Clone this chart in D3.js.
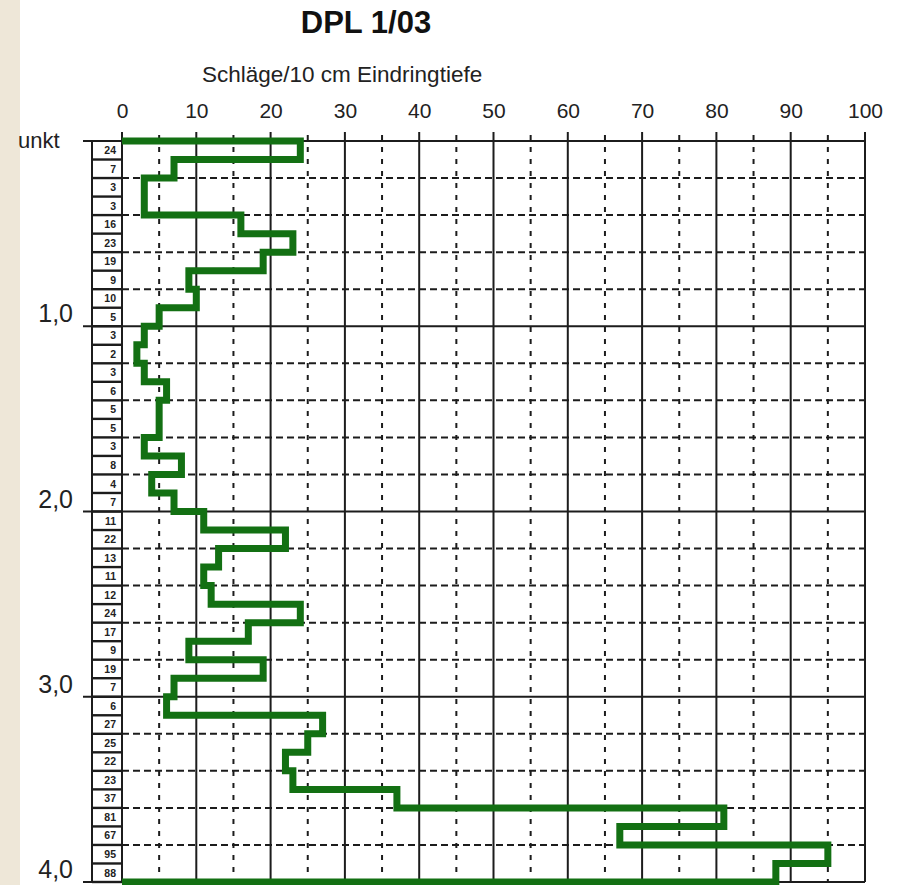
<!DOCTYPE html>
<html>
<head>
<meta charset="utf-8">
<script src="https://cdn.jsdelivr.net/npm/d3@7"></script>
<style>
  html, body { margin: 0; padding: 0; background: #ffffff; }
  svg { display: block; font-family: "Liberation Sans", Arial, sans-serif; }
</style>
</head>
<body>
<svg id="chart" width="903" height="885"></svg>
<script>
// Blows per 10 cm penetration, from 0.0 m down to 4.0 m
const blows = [
  24, 7, 3, 3, 16, 23, 19, 9, 10, 5,
  3, 2, 3, 6, 5, 5, 3, 8, 4, 7,
  11, 22, 13, 11, 12, 24, 17, 9, 19, 7,
  6, 27, 25, 22, 23, 37, 81, 67, 95, 88
];
const stepDepth = 0.1;                 // m per reading
const xTickValues = [0, 10, 20, 30, 40, 50, 60, 70, 80, 90, 100];
const xMinorValues = [5, 15, 25, 35, 45, 55, 65, 75, 85, 95];
const depthMajor = [0, 1, 2, 3, 4];
const depthMinor = [0.2, 0.4, 0.6, 0.8, 1.2, 1.4, 1.6, 1.8, 2.2, 2.4, 2.6, 2.8, 3.2, 3.4, 3.6, 3.8];
const depthLabels = ["1,0", "2,0", "3,0", "4,0"];
const depthLabelValues = [1, 2, 3, 4];
const titleText = "DPL 1/03";
const axisTitle = "Schläge/10 cm Eindringtiefe";
const startLabel = "unkt";

const svg = d3.select("#chart");

const x = d3.scaleLinear().domain([0, 100]).range([122, 865]);
const y = d3.scaleLinear().domain([0, 4]).range([141, 882]);

const ink = "#1c1c1c";
const green = "#137013";

// left margin strip
svg.append("rect").attr("x", 0).attr("y", 0).attr("width", 20).attr("height", 885)
  .attr("fill", "#eee7d8");

// title and axis caption
svg.append("text").attr("x", 366).attr("y", 33).attr("text-anchor", "middle")
  .attr("font-size", 31).attr("font-weight", "bold").attr("fill", "#111").text(titleText);
svg.append("text").attr("x", 202).attr("y", 82)
  .attr("font-size", 22.5).attr("fill", "#222").text(axisTitle);

// top axis labels
const axis = d3.axisTop(x).tickValues(xTickValues).tickSize(0).tickPadding(0).tickFormat(d3.format("d"));
const gAxis = svg.append("g").attr("transform", "translate(0,118)").call(axis);
gAxis.select(".domain").remove();
gAxis.selectAll("text").attr("font-size", 21).attr("fill", "#222")
  .attr("font-family", "'Liberation Sans', Arial, sans-serif").attr("dy", 0);

// minor horizontal dashed grid (every 0.2 m)
svg.append("g").selectAll("line").data(depthMinor).join("line")
  .attr("x1", x(0)).attr("x2", x(100))
  .attr("y1", d => y(d)).attr("y2", d => y(d))
  .attr("stroke", ink).attr("stroke-width", 2).attr("stroke-dasharray", "7,4");

// minor vertical dashed grid (every 5 blows)
svg.append("g").selectAll("line").data(xMinorValues).join("line")
  .attr("x1", d => x(d)).attr("x2", d => x(d))
  .attr("y1", y(0) - 6).attr("y2", y(4))
  .attr("stroke", ink).attr("stroke-width", 2).attr("stroke-dasharray", "5,7");

// major vertical lines (every 10 blows)
svg.append("g").selectAll("line").data(xTickValues).join("line")
  .attr("x1", d => x(d)).attr("x2", d => x(d))
  .attr("y1", y(0) - 9).attr("y2", y(4))
  .attr("stroke", ink).attr("stroke-width", 2);

// major horizontal lines (every metre)
svg.append("g").selectAll("line").data(depthMajor).join("line")
  .attr("x1", 83).attr("x2", x(100))
  .attr("y1", d => y(d)).attr("y2", d => y(d))
  .attr("stroke", ink).attr("stroke-width", 2);

// reading column: boxes holding the blow counts
const col = svg.append("g");
col.append("line").attr("x1", 92).attr("x2", 92).attr("y1", y(0)).attr("y2", y(4))
  .attr("stroke", ink).attr("stroke-width", 2);
col.selectAll("line.sep").data(blows.map((_, i) => (i + 1) * stepDepth)).join("line")
  .attr("class", "sep")
  .attr("x1", 92).attr("x2", x(0))
  .attr("y1", d => y(d)).attr("y2", d => y(d))
  .attr("stroke", ink).attr("stroke-width", 2.4);
col.selectAll("text").data(blows).join("text")
  .attr("x", 116)
  .attr("y", (d, i) => (y(i * stepDepth) + y((i + 1) * stepDepth)) / 2 + 3.8)
  .attr("text-anchor", "end").attr("font-size", 10.5).attr("font-weight", "bold")
  .attr("fill", "#222").text(d => d);

// depth labels
svg.append("g").selectAll("text").data(depthLabelValues).join("text")
  .attr("x", 73).attr("y", d => y(d) - 4)
  .attr("text-anchor", "end").attr("font-size", 25).attr("fill", "#222")
  .text((d, i) => depthLabels[i]);
svg.append("text").attr("x", 18).attr("y", 148).attr("font-size", 22).attr("fill", "#222")
  .text(startLabel);

// blow count profile
const pts = [{ v: 0, d: 0 }];
blows.forEach((v, i) => {
  pts.push({ v, d: i * stepDepth });
  pts.push({ v, d: (i + 1) * stepDepth });
});
pts.push({ v: 0, d: blows.length * stepDepth });

const line = d3.line().x(p => x(p.v)).y(p => y(p.d));
svg.append("path").datum(pts).attr("d", line)
  .attr("fill", "none").attr("stroke", green).attr("stroke-width", 7)
  .attr("stroke-linejoin", "miter");
</script>
</body>
</html>
